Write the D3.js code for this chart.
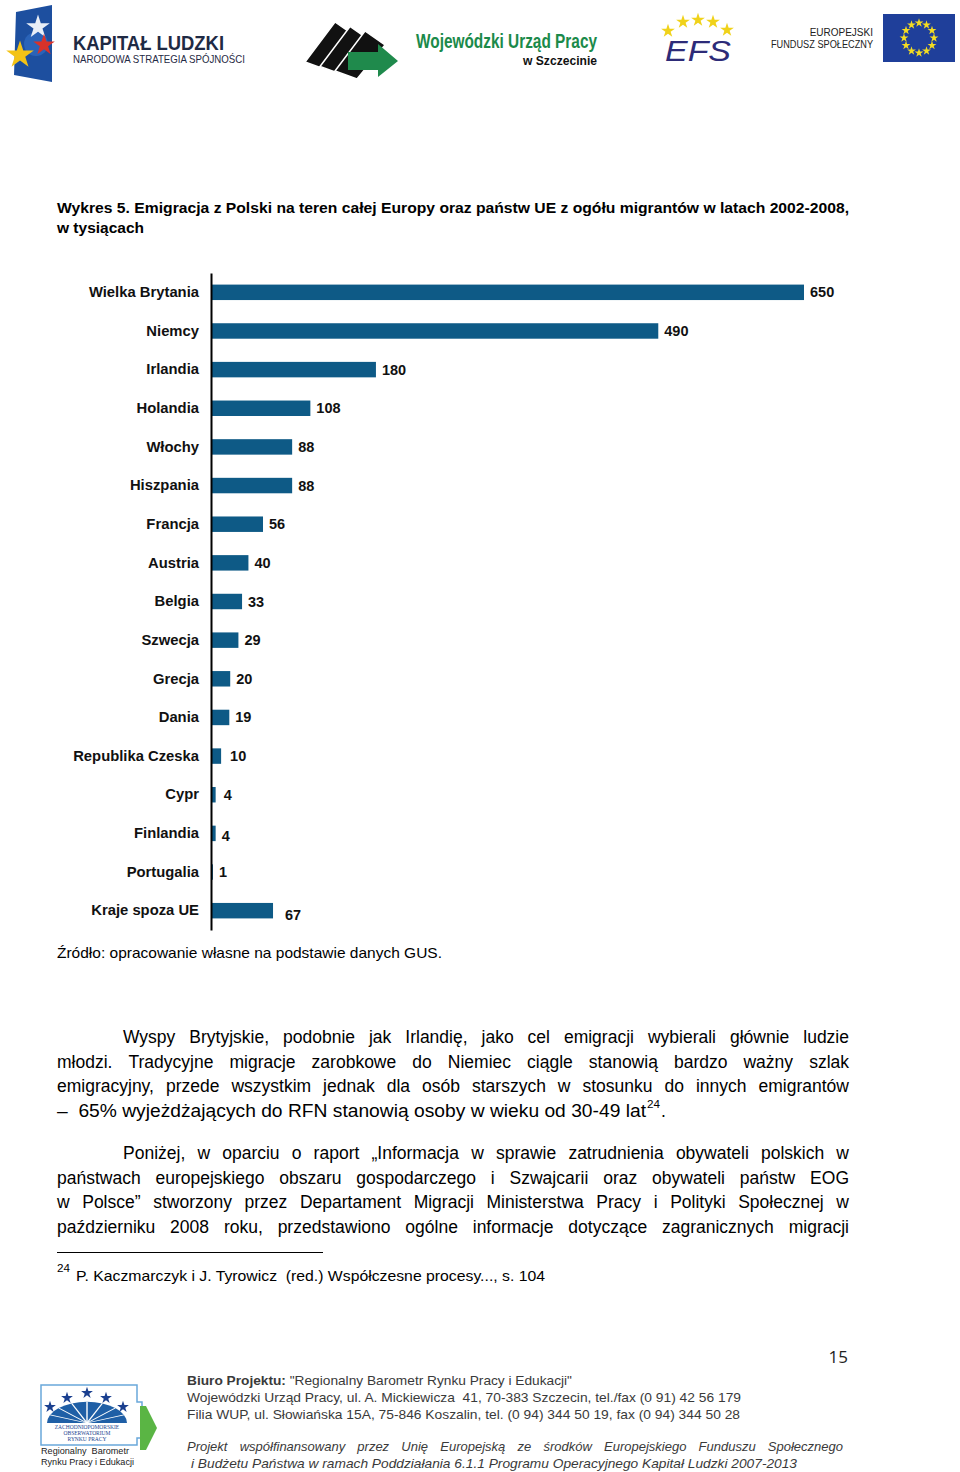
<!DOCTYPE html>
<html>
<head>
<meta charset="utf-8">
<script src="https://cdn.jsdelivr.net/npm/d3@7"></script>
<style>
  html, body { margin: 0; padding: 0; background: #fff; }
  svg { display: block; }
</style>
</head>
<body>
<script>
// ---------- DATA ----------
const categories = ["Wielka Brytania","Niemcy","Irlandia","Holandia","Włochy","Hiszpania","Francja","Austria","Belgia","Szwecja","Grecja","Dania","Republika Czeska","Cypr","Finlandia","Portugalia","Kraje spoza UE"];
const values = [650,490,180,108,88,88,56,40,33,29,20,19,10,4,4,1,67];
const titleLines = ["Wykres 5. Emigracja z Polski na teren całej Europy oraz państw UE z ogółu migrantów w latach 2002-2008,", "w tysiącach"];
const sourceText = "Źródło: opracowanie własne na podstawie danych GUS.";

// ---------- SETUP ----------
const W = 960, H = 1472;
const svg = d3.select("body").append("svg").attr("width", W).attr("height", H);
const F = "'Liberation Sans', Arial, sans-serif";

function justify(str, x0, x1, y, size, opts = {}) {
  const words = str.split(" ").filter(w => w.length);
  const g = svg.append("g");
  const nodes = words.map(w => g.append("text").attr("y", y).attr("font-family", F)
      .attr("font-size", size).attr("font-weight", opts.bold ? "bold" : null)
      .attr("font-style", opts.italic ? "italic" : null)
      .attr("fill", opts.fill || "#000").text(w));
  const widths = nodes.map(n => n.node().getComputedTextLength());
  const total = d3.sum(widths);
  const gap = (x1 - x0 - total) / (words.length - 1);
  let x = x0;
  nodes.forEach((n, i) => { n.attr("x", x); x += widths[i] + gap; });
  return g;
}
function fit(str, x0, x1, y, size, opts = {}) {
  const t = svg.append("text").attr("x", x0).attr("y", y).attr("font-family", F)
    .attr("font-size", size).attr("font-weight", opts.bold ? "bold" : null)
    .attr("font-style", opts.italic ? "italic" : null)
    .attr("fill", opts.fill || "#000").attr("xml:space", "preserve").text(str);
  if (x1 != null) t.attr("textLength", x1 - x0).attr("lengthAdjust", "spacingAndGlyphs");
  return t;
}
function star(cx, cy, r, fill) {
  svg.append("path").attr("transform", `translate(${cx},${cy})`)
    .attr("d", d3.symbol(d3.symbolStar, r * r * 1.2)()).attr("fill", fill);
}

// ---------- HEADER LOGOS ----------
// Kapitał Ludzki
svg.append("path").attr("d", "M16,12 L52,5 L52,82 L14,75 Z").attr("fill", "#1d4f9f");
svg.append("circle").attr("cx", 36).attr("cy", 44).attr("r", 12).attr("fill", "#2a63b8");
star(38, 27, 12, "#e8eef7");
star(44, 45, 11, "#d8322a");
star(20, 55, 14, "#f3c316");
fit("KAPITAŁ LUDZKI", 73, 224, 50, 20, { bold: true, fill: "#1f2a44" });
fit("NARODOWA STRATEGIA SPÓJNOŚCI", 73, 245, 63, 11, { fill: "#1f2a44" });

// WUP
[[0, "#111"], [15, "#111"], [30, "#111"]].forEach(([dx, c]) => {
  svg.append("path").attr("transform", `translate(${305 + dx},${22 + dx * 0.3})`)
    .attr("d", "M0,40 L30,0 L50,14 L22,48 Z").attr("fill", c).attr("stroke", "#fff").attr("stroke-width", 1.5);
});
svg.append("path").attr("d", "M348,52 L378,52 L378,44 L398,61 L378,77 L378,70 L348,70 Z").attr("fill", "#1f8a4c");
fit("Wojewódzki Urząd Pracy", 416, 597, 48, 20, { bold: true, fill: "#1b8a4a" });
fit("w Szczecinie", 523, 597, 65, 13, { bold: true, fill: "#111" });

// EFS
[[668, 31], [683, 22], [698, 20], [713, 22], [727, 30]].forEach(([x, y]) => star(x, y, 7, "#f0d21a"));
fit("EFS", 665, 731, 61, 30, { italic: true, fill: "#2d2b78" });

// EU
svg.append("text").attr("x", 873).attr("y", 36).attr("text-anchor", "end").attr("font-family", F)
  .attr("font-size", 10).attr("fill", "#222").text("EUROPEJSKI");
fit("FUNDUSZ SPOŁECZNY", 771, 873, 48, 10, { fill: "#222" });
svg.append("rect").attr("x", 883).attr("y", 14).attr("width", 72).attr("height", 48).attr("fill", "#1f3f9a");
d3.range(12).forEach(i => {
  const a = i / 12 * 2 * Math.PI;
  star(919 + 15 * Math.sin(a), 38 - 15 * Math.cos(a), 4.5, "#f4dc22");
});

// ---------- TITLE ----------
fit(titleLines[0], 57, 849, 213, 15.5, { bold: true });
fit(titleLines[1], 57, 144, 233, 15.5, { bold: true });

// ---------- CHART ----------
const x = d3.scaleLinear().domain([0, 650]).range([212, 804]);
const y = d3.scaleBand().domain(categories).range([273, 930]).paddingInner(0.6).paddingOuter(0.3);
const data = categories.map((c, i) => ({ c, v: values[i] }));

svg.append("g").selectAll("rect").data(data).join("rect")
  .attr("x", x(0)).attr("y", d => y(d.c)).attr("width", d => x(d.v) - x(0))
  .attr("height", y.bandwidth()).attr("fill", "#0e5a86");

const yAxis = svg.append("g").attr("transform", "translate(211,0)")
  .call(d3.axisLeft(y).tickSize(0).tickPadding(12).tickSizeOuter(0));
yAxis.select(".domain").attr("stroke", "#000").attr("stroke-width", 2);
yAxis.selectAll("text").attr("font-family", F).attr("font-size", 14.8).attr("font-weight", "bold").attr("fill", "#111");

const nudge = { "Cypr": [2, 0], "Finlandia": [0, 3], "Republika Czeska": [3, 0], "Kraje spoza UE": [6, 4] };
svg.append("g").selectAll("text").data(data).join("text")
  .attr("x", d => x(d.v) + 6 + (nudge[d.c] ? nudge[d.c][0] : 0))
  .attr("y", d => y(d.c) + y.bandwidth() / 2 + 5 + (nudge[d.c] ? nudge[d.c][1] : 0))
  .attr("font-family", F).attr("font-size", 14.5).attr("font-weight", "bold").attr("fill", "#111")
  .text(d => d.v);

fit(sourceText, 57, 442, 958, 14.5);

// ---------- BODY TEXT ----------
const bs = 17.5;
justify("Wyspy Brytyjskie, podobnie jak Irlandię, jako cel emigracji wybierali głównie ludzie", 123, 849, 1043, bs);
justify("młodzi. Tradycyjne migracje zarobkowe do Niemiec ciągle stanowią bardzo ważny szlak", 57, 849, 1068, bs);
justify("emigracyjny, przede wszystkim jednak dla osób starszych w stosunku do innych emigrantów", 57, 849, 1092, bs);
fit("–  65% wyjeżdżających do RFN stanowią osoby w wieku od 30-49 lat", 57, 646, 1117, bs);
fit("24", 647, 660, 1108, 11);
fit(".", 661, null, 1117, bs);
justify("Poniżej, w oparciu o raport „Informacja w sprawie zatrudnienia obywateli polskich w", 123, 849, 1159, bs);
justify("państwach europejskiego obszaru gospodarczego i Szwajcarii oraz obywateli państw EOG", 57, 849, 1184, bs);
justify("w Polsce” stworzony przez Departament Migracji Ministerstwa Pracy i Polityki Społecznej w", 57, 849, 1208, bs);
justify("październiku 2008 roku, przedstawiono ogólne informacje dotyczące zagranicznych migracji", 57, 849, 1233, bs);

// footnote
svg.append("line").attr("x1", 57).attr("x2", 323).attr("y1", 1252.5).attr("y2", 1252.5).attr("stroke", "#000").attr("stroke-width", 1.2);
fit("24", 57, 70, 1272, 10.5);
fit("P. Kaczmarczyk i J. Tyrowicz  (red.) Współczesne procesy..., s. 104", 76, 545, 1281, 14.5);

// page number
svg.append("text").attr("x", 848).attr("y", 1363).attr("text-anchor", "end").attr("font-family", "'Open Sans', sans-serif")
  .attr("font-size", 17).attr("fill", "#222").text("15");

// ---------- FOOTER ----------
const fc = "#3a3a3a";
const b1 = svg.append("text").attr("x", 187).attr("y", 1385).attr("font-family", F).attr("font-size", 13).attr("fill", fc)
  .attr("textLength", 572 - 187).attr("lengthAdjust", "spacingAndGlyphs");
b1.append("tspan").attr("font-weight", "bold").text("Biuro Projektu: ");
b1.append("tspan").text("\"Regionalny Barometr Rynku Pracy i Edukacji\"");
fit("Wojewódzki Urząd Pracy, ul. A. Mickiewicza  41, 70-383 Szczecin, tel./fax (0 91) 42 56 179", 187, 741, 1402, 13, { fill: fc });
fit("Filia WUP, ul. Słowiańska 15A, 75-846 Koszalin, tel. (0 94) 344 50 19, fax (0 94) 344 50 28", 187, 740, 1419, 13, { fill: fc });
justify("Projekt współfinansowany przez Unię Europejską ze środków Europejskiego Funduszu Społecznego", 187, 843, 1451, 13, { italic: true, fill: fc });
fit("i Budżetu Państwa w ramach Poddziałania 6.1.1 Programu Operacyjnego Kapitał Ludzki 2007-2013", 191, 797, 1468, 13, { italic: true, fill: fc });

// bottom-left logo
svg.append("path").attr("d", "M41,1385 L137,1385 L137,1402 L142,1402 L142,1438 L137,1438 L137,1445 L41,1445 Z")
  .attr("fill", "#fff").attr("stroke", "#6aa8da").attr("stroke-width", 1.5);
svg.append("path").attr("d", "M140,1406 L146,1406 L157,1428 L146,1450 L140,1450 Z").attr("fill", "#5ab544");
// flattened fan
const fan = svg.append("g").attr("transform", "translate(87,1423) scale(1,0.53)");
fan.append("path").attr("d", d3.arc()({ innerRadius: 0, outerRadius: 40, startAngle: -Math.PI / 2, endAngle: Math.PI / 2 }))
  .attr("fill", "#1f5fa6");
d3.range(1, 8).forEach(i => {
  const a = -Math.PI / 2 + i * Math.PI / 8;
  fan.append("line").attr("x1", 0).attr("y1", 0).attr("x2", 40 * Math.sin(a)).attr("y2", -40 * Math.cos(a))
    .attr("stroke", "#fff").attr("stroke-width", 1.4);
});
[[50, 1407], [67, 1398], [87, 1393], [106, 1398], [123, 1407]].forEach(([sx, sy]) => star(sx, sy, 6, "#1a3f8f"));
["ZACHODNIOPOMORSKIE", "OBSERWATORIUM", "RYNKU PRACY"].forEach((t, i) => {
  svg.append("text").attr("x", 87).attr("y", 1429 + i * 6).attr("text-anchor", "middle")
    .attr("font-family", "'Liberation Serif', serif").attr("font-size", 5.5).attr("fill", "#1a3f8f").text(t);
});
fit("Regionalny  Barometr", 41, 129, 1454, 9.5, { fill: "#222" });
fit("Rynku Pracy i Edukacji", 41, 134, 1465, 9.5, { fill: "#222" });
</script>
</body>
</html>
